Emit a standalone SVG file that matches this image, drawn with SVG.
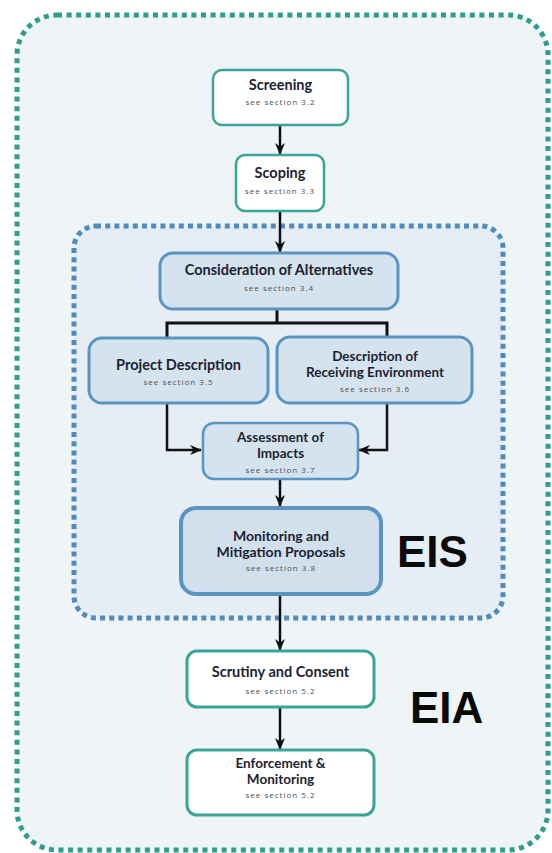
<svg xmlns="http://www.w3.org/2000/svg" width="552" height="853" viewBox="0 0 552 853">
<defs>
<marker id="ah" markerUnits="userSpaceOnUse" markerWidth="12" markerHeight="12" viewBox="0 0 12 12" refX="11" refY="6" orient="auto">
<path d="M0,1 L12,6 L0,11 L3.5,6 z" fill="#111"/>
</marker>
<style>
.outer{fill:#eff4f7;stroke:#2e9d8b;stroke-width:5;stroke-dasharray:5 4.6}
.inner{fill:#e7edf5;stroke:#4f8cbc;stroke-width:5;stroke-dasharray:5 4.2}
.wb{fill:#ffffff;stroke:#3aa596;stroke-width:2.5}
.bb{fill:#d5e3ef;stroke:#5a95c2;stroke-width:3}
.bbt{fill:#d2e0ed;stroke:#5a95c2;stroke-width:4}
.t{font-family:Lato,"Open Sans",sans-serif;font-weight:700;fill:#1c1f33;text-anchor:middle}
.s{font-family:"Open Sans","Noto Sans",sans-serif;font-size:8px;letter-spacing:1px;fill:#4d4d4d;text-anchor:middle}
.big{font-family:"Liberation Sans",Arial,sans-serif;font-weight:700;font-size:44px;fill:#0a0a0a}
.c{fill:none;stroke:#111;stroke-width:2.5}
</style>
</defs>
<rect class="outer" x="17" y="15" width="531" height="835" rx="40"/>
<rect class="inner" x="74" y="226" width="429" height="392" rx="22"/>
<g id="connectors">
<path class="c" d="M280,125 V154" marker-end="url(#ah)"/>
<path class="c" d="M280,211 V252" marker-end="url(#ah)"/>
<path class="c" d="M277,309 V323 M167,338 V323 H387 V337" style="stroke-width:3"/>
<path class="c" d="M167,403 V450 H201" marker-end="url(#ah)"/>
<path class="c" d="M387,403 V450 H359" marker-end="url(#ah)"/>
<path class="c" d="M280,479 V506" marker-end="url(#ah)"/>
<path class="c" d="M280,594 V650" marker-end="url(#ah)"/>
<path class="c" d="M280,707 V749" marker-end="url(#ah)"/>
</g>
<g id="screening">
<rect class="wb" x="213" y="70" width="135" height="55" rx="9"/>
<text class="t" x="280.5" y="90" font-size="14.5">Screening</text>
<text class="s" x="280.5" y="105">see section 3.2</text>
</g>
<g id="scoping">
<rect class="wb" x="236" y="155" width="88" height="56" rx="9"/>
<text class="t" x="280" y="178" font-size="14.5">Scoping</text>
<text class="s" x="280" y="194">see section 3.3</text>
</g>
<g id="alternatives">
<rect class="bb" x="160" y="253" width="238" height="56" rx="13"/>
<text class="t" x="279" y="275" font-size="14.5">Consideration of Alternatives</text>
<text class="s" x="279" y="291">see section 3.4</text>
</g>
<g id="project">
<rect class="bb" x="89" y="338" width="179" height="65" rx="13"/>
<text class="t" x="178.5" y="370" font-size="14.5">Project Description</text>
<text class="s" x="178.5" y="385">see section 3.5</text>
</g>
<g id="receiving">
<rect class="bb" x="277" y="337" width="195" height="66" rx="13"/>
<text class="t" x="375" y="361" font-size="13.5">Description of</text>
<text class="t" x="375" y="376.5" font-size="13.5">Receiving Environment</text>
<text class="s" x="375" y="392">see section 3.6</text>
</g>
<g id="assessment">
<rect class="bb" x="203" y="423" width="155" height="56" rx="11" style="stroke-width:2.5"/>
<text class="t" x="280.5" y="442" font-size="13.5">Assessment of</text>
<text class="t" x="280.5" y="457.5" font-size="13.5">Impacts</text>
<text class="s" x="280.5" y="473">see section 3.7</text>
</g>
<g id="monitoring">
<rect class="bbt" x="181" y="508" width="200" height="86" rx="15"/>
<text class="t" x="281" y="541" font-size="14">Monitoring and</text>
<text class="t" x="281" y="557" font-size="14">Mitigation Proposals</text>
<text class="s" x="281" y="571">see section 3.8</text>
</g>
<g id="eis"><text class="big" x="397" y="567">EIS</text></g>
<g id="scrutiny">
<rect class="wb" x="187" y="651" width="187" height="56" rx="10" style="stroke-width:3"/>
<text class="t" x="280.5" y="677" font-size="14.5">Scrutiny and Consent</text>
<text class="s" x="280.5" y="694">see section 5.2</text>
</g>
<g id="enforcement">
<rect class="wb" x="187" y="750" width="187" height="65" rx="10" style="stroke-width:3"/>
<text class="t" x="280.5" y="768" font-size="13.5">Enforcement &amp;</text>
<text class="t" x="280.5" y="783.5" font-size="13.5">Monitoring</text>
<text class="s" x="280.5" y="798">see section 5.2</text>
</g>
<g id="eia"><text class="big" x="410" y="723">EIA</text></g>
</svg>
